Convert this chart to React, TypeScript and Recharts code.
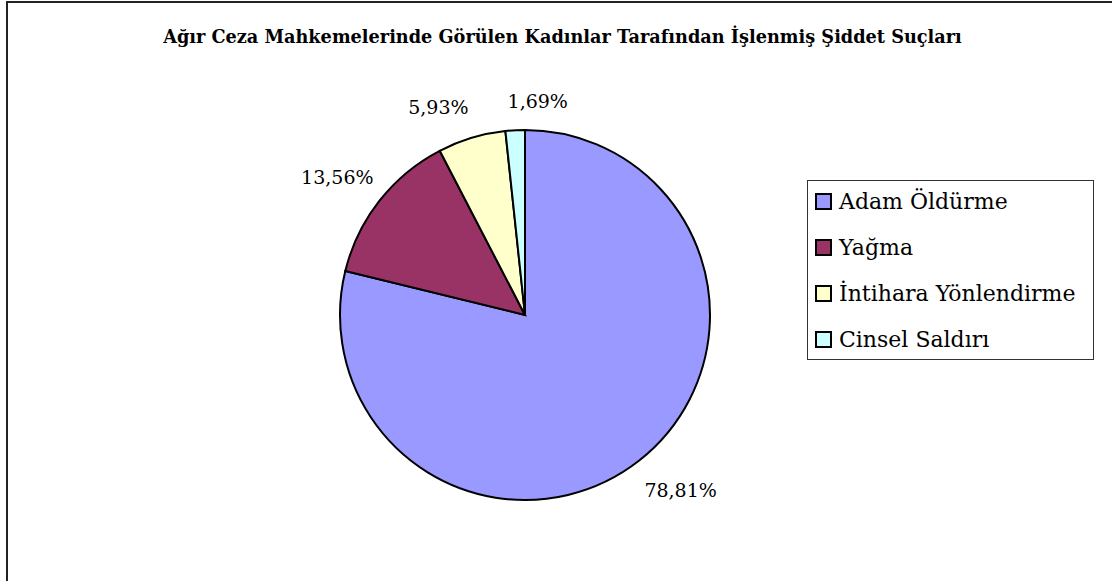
import React from 'react';
import { PieChart, Pie, Cell, Legend } from 'recharts';

const categories = ['Adam Öldürme', 'Yağma', 'İntihara Yönlendirme', 'Cinsel Saldırı'];
const values = [78.81, 13.56, 5.93, 1.69];
const colors = ['#9999FF', '#993366', '#FFFFCC', '#CCFFFF'];
const title = 'Ağır Ceza Mahkemelerinde Görülen Kadınlar Tarafından İşlenmiş Şiddet Suçları';

const data = categories.map((name, i) => ({ name, value: values[i] }));

const FONT = 'DejaVu Serif';
const RADIAN = Math.PI / 180;
const labelNudge: [number, number][] = [[13, -7], [-6, 5], [-20, 13], [25, 17]];

const renderLabel = (props: any) => {
  const { cx, cy, midAngle, outerRadius, index, value } = props;
  const r = outerRadius + 46;
  const n = labelNudge[index] || [0, 0];
  const x = cx + r * Math.cos(-midAngle * RADIAN) + n[0];
  const y = cy + r * Math.sin(-midAngle * RADIAN) + n[1];
  return (
    <text x={x} y={y} textAnchor="middle" dominantBaseline="central" fontFamily={FONT} fontSize={19} fill="#000">
      {value.toFixed(2).replace('.', ',')}%
    </text>
  );
};

const renderLegend = () => (
  <div style={{ border: '1px solid #333', background: '#fff', width: 287, height: 180, boxSizing: 'border-box', padding: '0 0 0 7px', fontFamily: FONT, fontSize: 22 }}>
    <div style={{ position: 'relative', top: -3 }}>
      {categories.map((c, i) => (
        <div key={c} style={{ display: 'flex', alignItems: 'center', height: 46, whiteSpace: 'nowrap' }}>
          <span style={{ display: 'inline-block', width: 13, height: 13, background: colors[i], border: '2px solid #000', marginRight: 7, flex: 'none' }} />
          <span>{c}</span>
        </div>
      ))}
    </div>
  </div>
);

export default function App() {
  return (
    <div style={{ position: 'absolute', left: 0, top: 0, width: 1112, height: 581, overflow: 'hidden', background: '#fff' }}>
      <div style={{ position: 'absolute', left: 6, top: 1, width: 1200, height: 700, border: '2px solid #222' }} />
      <div style={{ position: 'absolute', left: 0, top: 27, width: 1125, textAlign: 'center', fontFamily: FONT, fontWeight: 'bold', fontSize: 17.7, lineHeight: '20px', whiteSpace: 'nowrap' }}>
        {title}
      </div>
      <div style={{ position: 'absolute', left: 0, top: 0 }}>
        <PieChart width={1112} height={581} margin={{ top: 0, right: 0, bottom: 0, left: 0 }}>
          <Pie
            data={data}
            dataKey="value"
            nameKey="name"
            cx={525}
            cy={315}
            outerRadius={185}
            startAngle={90}
            endAngle={-270}
            stroke="#000"
            strokeWidth={2}
            label={renderLabel}
            labelLine={false}
            isAnimationActive={false}
          >
            {data.map((d, i) => (
              <Cell key={d.name} fill={colors[i]} />
            ))}
          </Pie>
          <Legend
            layout="vertical"
            content={renderLegend}
            wrapperStyle={{ position: 'absolute', left: 807, top: 180, width: 287 }}
          />
        </PieChart>
      </div>
    </div>
  );
}
